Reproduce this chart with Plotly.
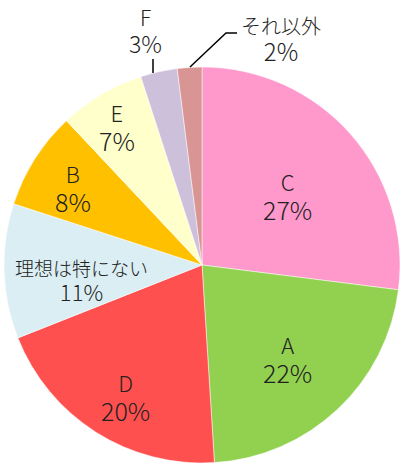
import plotly.graph_objects as go

labels = ["C", "A", "D", "理想は特にない", "B", "E", "F", "それ以外"]
values = [27, 22, 20, 11, 8, 7, 3, 2]
colors = ["#FF99CC", "#92D050", "#FF5050", "#DAEEF3", "#FFC000", "#FFFFCC", "#CCC0DA", "#D99594"]

# label layout (pixel centres of the two-line labels) and font sizes
label_pos = [(287, 196), (287, 359), (125, 397), (81, 280), (73, 188), (117, 127), (145, 31), (281, 40)]
base_size = [22, 22, 22, 19, 22, 22, 21, 21]
name_size = [22, 22, 22, 19, 22, 22, 21, 20]
pct_size = [25, 25, 25, 22, 25, 25, 23, 24]

W, H = 400, 463
cx, cy, R = 202, 265, 198

fig = go.Figure(go.Pie(
    labels=labels, values=values, sort=False, direction="clockwise", rotation=0,
    marker=dict(colors=colors, line=dict(color="white", width=0.5)),
    textinfo="none", hoverinfo="label+percent", showlegend=False,
    domain=dict(x=[(cx - R) / W, (cx + R) / W], y=[(H - cy - R) / H, (H - cy + R) / H]),
))

total = sum(values)
fam = "Noto Sans CJK JP, sans-serif"
anns = []
for i, (lab, v) in enumerate(zip(labels, values)):
    pct = f"{round(v / total * 100)}%"
    xp, yp = label_pos[i]
    txt = (f"<span style='font-size:{name_size[i]}px'>{lab}</span><br>"
           f"<span style='font-size:{pct_size[i]}px'>{pct}</span>")
    anns.append(dict(x=xp / W, y=1 - yp / H, xref="paper", yref="paper",
                     text=txt, showarrow=False, align="center",
                     font=dict(family=fam, size=base_size[i], color="#222222", weight=300),
                     xanchor="center", yanchor="middle"))

shapes = [
    dict(type="line", xref="paper", yref="paper",
         x0=153 / W, y0=1 - 59 / H, x1=153 / W, y1=1 - 73 / H,
         line=dict(color="black", width=1.5)),
    dict(type="path", xref="paper", yref="paper",
         path=f"M {190/W},{1-67/H} L {226/W},{1-33/H} L {237/W},{1-33/H}",
         line=dict(color="black", width=1.5)),
]

fig.update_layout(width=W, height=H, margin=dict(l=0, r=0, t=0, b=0),
                  paper_bgcolor="white", plot_bgcolor="white",
                  annotations=anns, shapes=shapes)
fig.write_html("out.html", config={"displayModeBar": False},
               post_script="document.body.style.margin='0';")
